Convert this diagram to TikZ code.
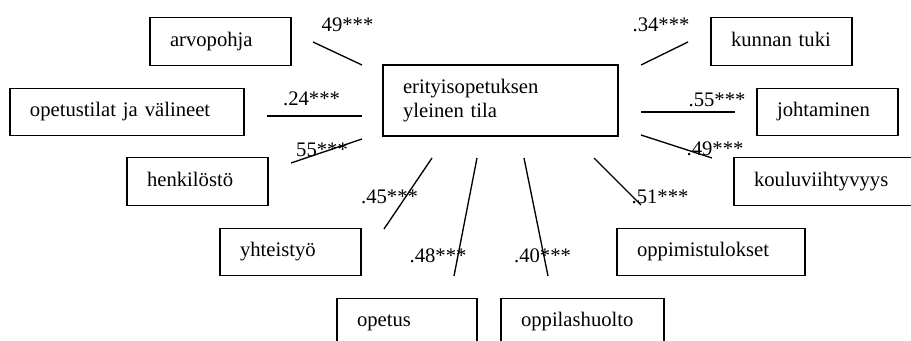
\documentclass[tikz,border=0pt]{standalone}
\usepackage{fontspec}
\setmainfont{Liberation Serif}
\usepackage{tikz}

\begin{document}
\begin{tikzpicture}[
      x=0.75pt, y=-0.75pt,
      box/.style={rectangle, draw, line width=1pt, inner xsep=15pt,
                  align=left, font=\fontsize{15.5}{18}\selectfont},
      vbox/.style={box, minimum height=35.6pt, text height=10.7pt,
                   text depth=3.4pt},
      link/.style={draw, line width=1pt},
      coef/.style={inner sep=0pt, font=\fontsize{15.5}{18}\selectfont}
    ]
    \useasboundingbox (0,0) rectangle (911,341);

    % the main variable
    \node[box, minimum height=53.25pt, text width=146.25pt] (tila) at (500.5,100.5)
          {erityisopetuksen\\yleinen tila};

    % factors round it
    \node[vbox, text width=75.75pt]  (arvo)  at (220.5,41.5) {arvopohja};
    \node[vbox, text width=145.5pt]  (tilat) at (127,112)    {opetustilat ja välineet};
    \node[vbox, text width=75.75pt]  (henk)  at (197.5,181.5){henkilöstö};
    \node[vbox, text width=75.75pt]  (yht)   at (290.5,252)  {yhteistyö};
    \node[vbox, text width=75pt]     (ope)   at (407,322)    {opetus};
    \node[vbox, text width=92.25pt]  (huol)  at (582.5,322)  {oppilashuolto};
    \node[vbox, text width=111pt]    (tulos) at (711,252)    {oppimistulokset};
    \node[vbox, text width=120pt]    (viiht) at (834,181.5)  {kouluviihtyvyys};
    \node[vbox, text width=75.75pt]  (johto) at (827.5,112)  {johtaminen};
    \node[vbox, text width=75.75pt]  (kunta) at (781.5,41.5) {kunnan tuki};

    % correlation lines and their values
    \foreach \ax/\ay/\bx/\by/\r/\lx/\ly [count=\i] in {
        313/42/362/65/49***/347.5/25,
        267/116/362/116/.24***/311.5/99,
        291/163/362/139/55***/322/149.5,
        432/158/384/229/.45***/389.5/196.5,
        477/158/454/276/.48***/438/256,
        524/158/548/276/.40***/542.5/256,
        594/158/641/205/.51***/660/196.5,
        641/135/712/158/.49***/715/148.5,
        641/112/735/112/.55***/717/99.5,
        641/65/688/42/.34***/661/25}{
      \coordinate (r\i a) at (\ax,\ay);
      \coordinate (r\i b) at (\bx,\by);
      \draw[link] (r\i a) -- (r\i b);
      \node[coef] (v\i) at (\lx,\ly) {\r};
    }
  \end{tikzpicture}
\end{document}
